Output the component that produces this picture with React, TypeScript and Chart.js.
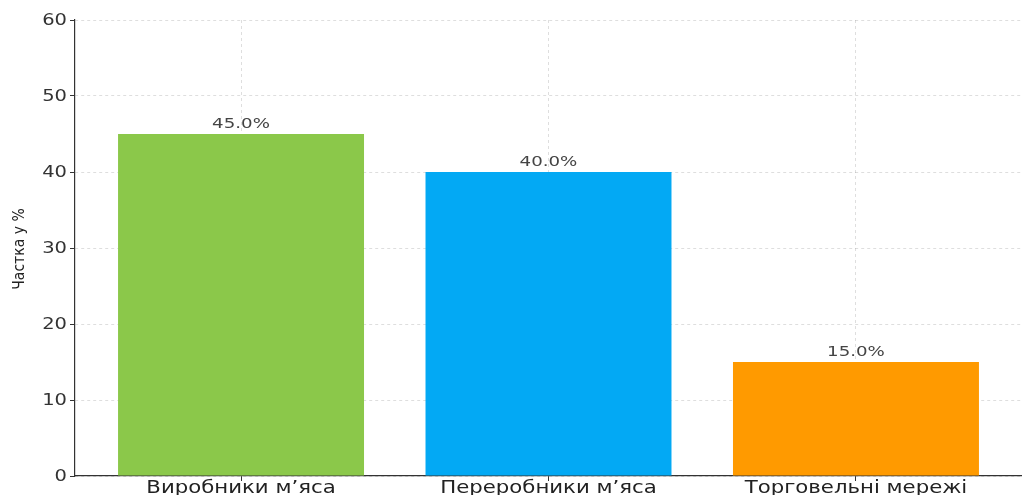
import React, { useEffect, useRef } from "react";
import { Chart, registerables } from "chart.js";

Chart.register(...registerables);

const categories = ["Виробники м’яса", "Переробники м’яса", "Торговельні мережі"];
const shares = [45.0, 40.0, 15.0];
const barColors = ["#8BC84A", "#03A9F4", "#FF9A00"];
const yTicks = [0, 10, 20, 30, 40, 50, 60];
const yTitle = "Частка у %";

const FONT = "'DejaVu Sans', sans-serif";
const STRETCH = 1.3;

function stretchedText(ctx: any, text: string, x: number, y: number, sx: number) {
  ctx.save();
  ctx.translate(x, y);
  ctx.scale(sx, 1);
  ctx.fillText(text, 0, 0);
  ctx.restore();
}

const textPlugin = {
  id: "textPlugin",
  afterDatasetsDraw(chart: any) {
    const ctx = chart.ctx;
    const meta = chart.getDatasetMeta(0);
    ctx.save();
    ctx.font = `14px ${FONT}`;
    ctx.fillStyle = "#444";
    ctx.textAlign = "center";
    ctx.textBaseline = "alphabetic";
    meta.data.forEach((el: any, i: number) => {
      stretchedText(ctx, shares[i].toFixed(1) + "%", el.x, el.y - 6, STRETCH);
    });
    ctx.restore();
  },
  afterDraw(chart: any) {
    const ctx = chart.ctx;
    const a = chart.chartArea;
    const xs = chart.scales.x;
    const ys = chart.scales.y;
    ctx.save();
    ctx.font = `15px ${FONT}`;
    ctx.fillStyle = "#333";
    ctx.textAlign = "right";
    ctx.textBaseline = "middle";
    yTicks.forEach((v) => {
      stretchedText(ctx, String(v), 67, ys.getPixelForValue(v) + 1, STRETCH);
    });
    ctx.font = `17px ${FONT}`;
    ctx.fillStyle = "#222";
    ctx.textAlign = "center";
    ctx.textBaseline = "top";
    categories.forEach((c, i) => {
      stretchedText(ctx, c, xs.getPixelForValue(i), 480, 1.25);
    });
    ctx.font = `14px ${FONT}`;
    ctx.fillStyle = "#222";
    ctx.textAlign = "center";
    ctx.textBaseline = "middle";
    ctx.translate(20, (a.top + a.bottom) / 2 + 1);
    ctx.scale(1.1, 1);
    ctx.rotate(-Math.PI / 2);
    ctx.fillText(yTitle, 0, 0);
    ctx.restore();
  },
};

export default function App() {
  const ref = useRef<HTMLCanvasElement | null>(null);
  useEffect(() => {
    document.body.style.margin = "0";
    const gridOpts: any = {
      color: "rgba(0,0,0,0.13)",
      tickColor: "#333",
      tickLength: 5,
      tickBorderDash: [],
      offset: false,
    };
    const borderOpts: any = { display: true, color: "#333", width: 1.2, dash: [3, 3] };
    const chart = new Chart(ref.current as HTMLCanvasElement, {
      type: "bar",
      data: {
        datasets: [
          {
            data: shares.map((v, i) => ({ x: i, y: v })),
            backgroundColor: barColors,
            categoryPercentage: 1,
            barPercentage: 0.8,
          },
        ],
      },
      options: {
        responsive: false,
        animation: false,
        layout: { padding: { top: 20, right: 0, left: 0, bottom: 0 } },
        plugins: { legend: { display: false }, tooltip: { enabled: false } },
        scales: {
          x: {
            type: "linear",
            position: "bottom",
            offset: false,
            min: -0.54,
            max: 2.54,
            afterFit: (s: any) => {
              s.height = 19;
            },
            afterBuildTicks: (s: any) => {
              s.ticks = categories.map((_, i) => ({ value: i }));
            },
            ticks: { display: false, stepSize: 1, includeBounds: false, autoSkip: false },
            grid: gridOpts,
            border: borderOpts,
          },
          y: {
            position: "left",
            min: 0,
            max: 60,
            afterFit: (s: any) => {
              s.width = 75;
            },
            afterBuildTicks: (s: any) => {
              s.ticks = yTicks.map((v) => ({ value: v }));
            },
            ticks: { display: false, stepSize: 10 },
            grid: gridOpts,
            border: borderOpts,
          },
        },
      },
      plugins: [textPlugin],
    });
    return () => chart.destroy();
  }, []);
  return (
    <div style={{ position: "fixed", left: 0, top: 0, width: 1022, height: 495, background: "#fff" }}>
      <canvas ref={ref} width={1022} height={495} />
    </div>
  );
}
